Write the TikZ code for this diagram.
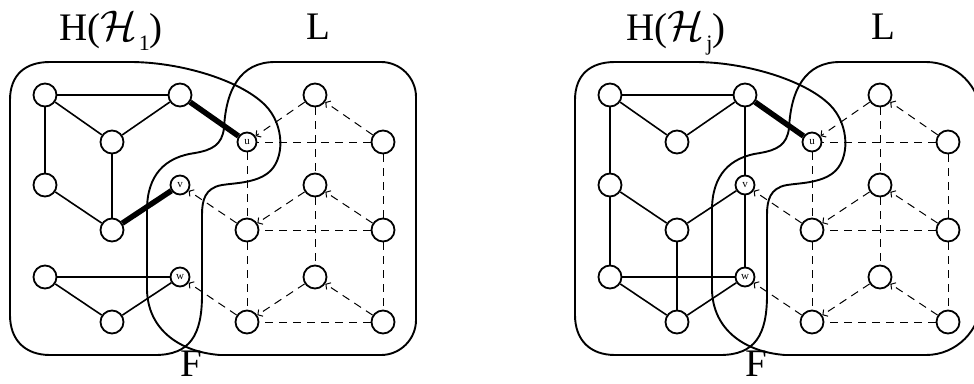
\RequirePackage{fix-cm}
\documentclass[tikz,border=0pt]{standalone}
\usepackage{fontspec}
\setmainfont{Liberation Serif}
\usetikzlibrary{arrows.meta}
\begin{document}
\begin{tikzpicture}[x=1pt,y=-1pt,
  vtx/.style={circle,draw,line width=1.8pt,fill=white,minimum size=23pt,inner sep=0pt},
  svtx/.style={circle,draw,line width=1.8pt,fill=white,minimum size=19pt,inner sep=0pt,font=\fontsize{11}{11}\selectfont},
  edge/.style={line width=1.6pt},
  heavy/.style={line width=5.5pt},
  dedge/.style={dash pattern=on 8pt off 6pt,line width=1pt},
  darr/.style={dedge,-{Straight Barb[length=3.5pt,width=8pt,line width=1pt]}},
  blob/.style={line width=1.9pt},
  lbl/.style={font=\fontsize{39}{41}\selectfont,inner sep=0pt,anchor=base}]
\useasboundingbox (0,0) rectangle (974,383);
\foreach \p/\dx/\sub/\rc in {a/0/1/35,b/565/j/55}{
  \begin{scope}[xshift=\dx pt]
    % blobs
    \draw[blob] (10,100) .. controls (10,75) and (25,62) .. (50,62) -- (130,62)
      .. controls (180,62) and (240,80) .. (265,105)
      .. controls (285,125) and (285,160) .. (268,173)
      .. controls (255,183) and (235,183) .. (222,185)
      .. controls (205,188) and (202,200) .. (202,215) -- (202,295)
      .. controls (202,335) and (190,355) .. (155,355) -- (50,355)
      .. controls (25,355) and (10,340) .. (10,315) -- cycle;
    \draw[blob] (275,62) -- ({416-\rc},62) .. controls ({416-0.45*\rc},62) and (416,{62+0.45*\rc}) .. (416,{62+\rc})
      -- (416,{355-\rc}) .. controls (416,{355-0.45*\rc}) and ({416-0.45*\rc},355) .. ({416-\rc},355) -- (220,355)
      .. controls (180,352) and (148,330) .. (147,290) -- (147,210)
      .. controls (147,175) and (165,157) .. (195,153)
      .. controls (212,150) and (222,145) .. (224,128)
      .. controls (226,90) and (240,62) .. (275,62) -- cycle;
    % labels
    \node[lbl] (\p hl) at (111,40) {H(\scalebox{1.1}{$\mathcal{H}$}\kern2pt\raisebox{-10pt}{\fontsize{22}{22}\selectfont\sub})};
    \node[lbl] (\p ll) at (318,39) {L};
    \node[lbl] (\p fl) at (191,376) {F};
    % H nodes
    \node[vtx] (\p A) at (45,95) {};
    \node[vtx] (\p B) at (180,95) {};
    \node[vtx] (\p C) at (112,142) {};
    \node[vtx] (\p D) at (45,185) {};
    \node[vtx] (\p E) at (112,230) {};
    \node[vtx] (\p F) at (45,277) {};
    \node[vtx] (\p G) at (112,322) {};
    \node[svtx] (\p u) at (247,142) {u};
    \node[svtx] (\p v) at (180,185) {v};
    \node[svtx] (\p w) at (180,277) {w};
    % L nodes
    \node[vtx] (\p l1) at (315,95) {};
    \node[vtx] (\p l2) at (383,142) {};
    \node[vtx] (\p l3) at (315,185) {};
    \node[vtx] (\p l4) at (247,230) {};
    \node[vtx] (\p l5) at (383,230) {};
    \node[vtx] (\p l6) at (315,277) {};
    \node[vtx] (\p l7) at (247,322) {};
    \node[vtx] (\p l8) at (383,322) {};
    % L edges
    \draw[dedge] (\p l2) -- (\p u);
    \draw[dedge] (\p l5) -- (\p l4);
    \draw[dedge] (\p l8) -- (\p l7);
    \draw[dedge] (\p u) -- (\p l4);
    \draw[dedge] (\p l4) -- (\p l7);
    \draw[dedge] (\p l1) -- (\p l3);
    \draw[dedge] (\p l3) -- (\p l6);
    \draw[dedge] (\p l2) -- (\p l5);
    \draw[dedge] (\p l5) -- (\p l8);
    \draw[darr] (\p l1) -- (\p u);
    \draw[darr] (\p l2) -- (\p l1);
    \draw[darr] (\p l3) -- (\p l4);
    \draw[darr] (\p l5) -- (\p l3);
    \draw[darr] (\p l6) -- (\p l7);
    \draw[darr] (\p l8) -- (\p l6);
    \draw[darr] (\p l4) -- (\p v);
    \draw[darr] (\p l7) -- (\p w);
    % common H edges
    \draw[edge] (\p A) -- (\p B);
    \draw[edge] (\p A) -- (\p C);
    \draw[edge] (\p C) -- (\p B);
    \draw[edge] (\p A) -- (\p D);
    \draw[edge] (\p D) -- (\p E);
    \draw[edge] (\p F) -- (\p w);
    \draw[edge] (\p F) -- (\p G);
    \draw[edge] (\p G) -- (\p w);
    \draw[heavy] (\p B) -- (\p u);
  \end{scope}
}
% panel 1 specific
\draw[edge] (aC) -- (aE);
\draw[heavy] (aE) -- (av);
% panel 2 specific
\draw[edge] (bD) -- (bF);
\draw[edge] (bE) -- (bv);
\draw[edge] (bB) -- (bv);
\draw[edge] (bv) -- (bw);
\draw[edge] (bE) -- (bG);
\end{tikzpicture}
\end{document}
